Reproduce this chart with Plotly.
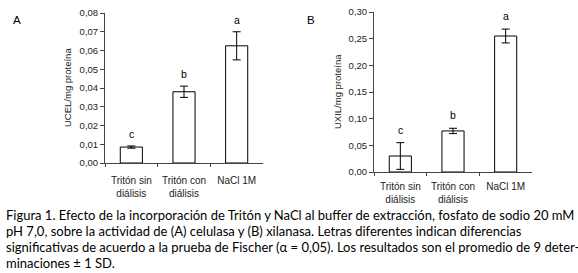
import plotly.graph_objects as go

W, H = 578, 273

categories = ["Tritón sin<br>diálisis", "Tritón con<br>diálisis", "NaCl 1M"]

cel_values = [0.0085, 0.038, 0.0625]
cel_errors = [0.0006, 0.003, 0.0075]
cel_letters = ["c", "b", "a"]

xil_values = [0.030, 0.077, 0.255]
xil_errors = [0.025, 0.005, 0.013]
xil_letters = ["c", "b", "a"]

cel_ticks = [0, 0.01, 0.02, 0.03, 0.04, 0.05, 0.06, 0.07, 0.08]
cel_ticktext = ["0,00", "0,01", "0,02", "0,03", "0,04", "0,05", "0,06", "0,07", "0,08"]
xil_ticks = [0, 0.05, 0.10, 0.15, 0.20, 0.25, 0.30]
xil_ticktext = ["0,00", "0,05", "0,10", "0,15", "0,20", "0,25", "0,30"]

cel_title = "UCEL/mg proteína"
xil_title = "UXIL/mg proteína"

caption_lines = [
    "Figura 1. Efecto de la incorporación de Tritón y NaCl al buffer de extracción, fosfato de sodio 20 mM",
    "pH 7,0, sobre la actividad de (A) celulasa y (B) xilanasa. Letras diferentes indican diferencias",
    "significativas de acuerdo a la prueba de Fischer (α = 0,05). Los resultados son el promedio de 9 deter-",
    "minaciones ± 1 SD.",
]

def px_x(p):
    return p / W

def px_y(p):
    return 1 - p / H

fig = go.Figure()

bar_style = dict(marker=dict(color="white", line=dict(color="black", width=1)), width=0.42,
                 showlegend=False, hoverinfo="skip")

fig.add_trace(go.Bar(x=categories, y=cel_values,
                     error_y=dict(type="data", array=cel_errors, color="black", thickness=1, width=4),
                     xaxis="x", yaxis="y", **bar_style))
fig.add_trace(go.Bar(x=categories, y=xil_values,
                     error_y=dict(type="data", array=xil_errors, color="black", thickness=1, width=4),
                     xaxis="x2", yaxis="y2", **bar_style))

ytick_font = dict(family="Arial, Liberation Sans, sans-serif", size=9.5, color="#222")
xtick_font = dict(family="Arial, Liberation Sans, sans-serif", size=10, color="#222")

common_x = dict(type="category", showline=True, linecolor="#444", linewidth=1,
                ticks="outside", tickson="boundaries", ticklen=3, tickcolor="#444",
                tickfont=xtick_font, tickangle=0, showgrid=False, zeroline=False, fixedrange=True,
                automargin=False)
common_y = dict(showline=True, linecolor="#444", linewidth=1, ticks="outside", ticklen=4,
                tickcolor="#444", tickfont=ytick_font, showgrid=False, zeroline=False,
                fixedrange=True, automargin=False)

fig.update_layout(
    width=W, height=H,
    margin=dict(l=0, r=0, t=0, b=0),
    paper_bgcolor="white", plot_bgcolor="white",
    xaxis=dict(domain=[px_x(105), px_x(263)], anchor="y", ticklabelstandoff=8, **common_x),
    yaxis=dict(domain=[px_y(163), px_y(13)], range=[0, 0.08], anchor="x",
               tickvals=cel_ticks, ticktext=cel_ticktext, **common_y),
    xaxis2=dict(domain=[px_x(374), px_x(532)], anchor="y2", ticklabelstandoff=5, **common_x),
    yaxis2=dict(domain=[px_y(172), px_y(12)], range=[0, 0.30], anchor="x2",
                tickvals=xil_ticks, ticktext=xil_ticktext, **common_y),
)

letter_font = dict(family="Arial, Liberation Sans, sans-serif", size=10.5, color="black")
annotations = []
for cat, v, e, l in zip(categories, cel_values, cel_errors, cel_letters):
    annotations.append(dict(x=cat, y=v + e, xref="x", yref="y", text=l, showarrow=False,
                            yanchor="middle", yshift=12, font=letter_font))
for cat, v, e, l in zip(categories, xil_values, xil_errors, xil_letters):
    annotations.append(dict(x=cat, y=v + e, xref="x2", yref="y2", text=l, showarrow=False,
                            yanchor="middle", yshift=13, font=letter_font))

# y-axis titles
annotations.append(dict(x=px_x(68), y=px_y(88), xref="paper", yref="paper", text=cel_title,
                        showarrow=False, textangle=-90, xanchor="center", yanchor="middle",
                        font=ytick_font))
annotations.append(dict(x=px_x(337), y=px_y(92), xref="paper", yref="paper", text=xil_title,
                        showarrow=False, textangle=-90, xanchor="center", yanchor="middle",
                        font=ytick_font))

annotations.append(dict(x=px_x(17), y=px_y(20), xref="paper", yref="paper", text="A", showarrow=False,
                        xanchor="center", yanchor="middle", font=dict(family="Arial", size=11.5, color="black")))
annotations.append(dict(x=px_x(311), y=px_y(20), xref="paper", yref="paper", text="B", showarrow=False,
                        xanchor="center", yanchor="middle", font=dict(family="Arial", size=11.5, color="black")))

caption_y = [215, 231, 247, 263]
for line, yp in zip(caption_lines, caption_y):
    annotations.append(dict(x=px_x(4), y=px_y(yp), xref="paper", yref="paper", text=line,
                            showarrow=False, xanchor="left", yanchor="middle",
                            font=dict(family="Lato, Open Sans, sans-serif", size=13.0, color="black")))

fig.update_layout(annotations=annotations)

fig.write_html("out.html", config={"displayModeBar": False},
               post_script="document.body.style.margin='0px';document.body.style.overflow='hidden';")
